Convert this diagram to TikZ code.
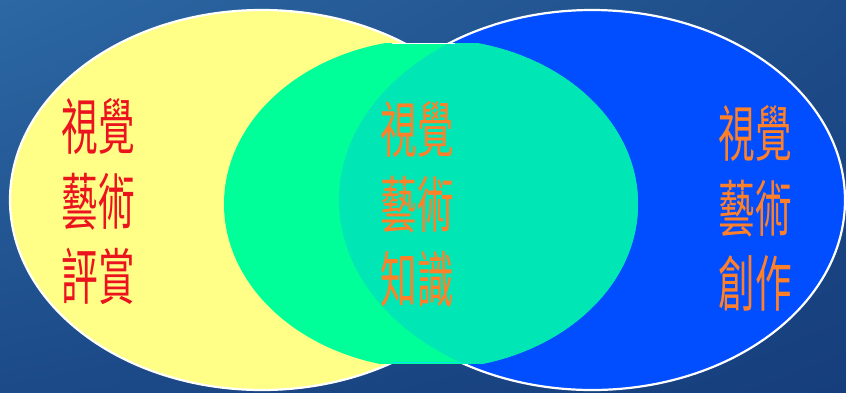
\documentclass[tikz,border=0pt]{standalone}
\usepackage{fontspec}
\usetikzlibrary{shadings}
\newfontfamily\cjkfont[FakeStretch=0.6]{Noto Sans CJK TC}
\definecolor{bgTL}{RGB}{44,104,164}
\definecolor{bgTR}{RGB}{30,76,136}
\definecolor{bgBL}{RGB}{28,74,136}
\definecolor{bgBR}{RGB}{22,62,124}
\definecolor{yellowfill}{RGB}{255,255,136}
\definecolor{bluefill}{RGB}{0,78,255}
\definecolor{greenfill}{RGB}{0,255,153}
\definecolor{tealfill}{RGB}{0,230,180}
\definecolor{edgecyan}{RGB}{0,230,235}
\definecolor{redtext}{RGB}{235,20,30}
\definecolor{orangetext}{RGB}{255,128,40}
\tikzset{
  ringshape/.style={draw=white, line width=2.2pt},
  vlabel/.style={font=\cjkfont\fontsize{61}{75}\selectfont, align=center, inner sep=0pt}
}
\begin{document}
\begin{tikzpicture}[x=1pt,y=-1pt]
\useasboundingbox (0,0) rectangle (846,392);
\shade[upper left=bgTL, upper right=bgTR, lower left=bgBL, lower right=bgBR] (0,0) rectangle (846,392);
% yellow ellipse
\path[ringshape, fill=yellowfill] (262,200) ellipse [x radius=252, y radius=190];
% blue ellipse
\path[ringshape, fill=bluefill] (592,200) ellipse [x radius=253, y radius=190];
% green ellipse (clipped flat at top and bottom)
\begin{scope}
  \clip (0,43) rectangle (846,363);
  \fill[greenfill] (431,204) ellipse [x radius=207, y radius=165];
  \clip (592,200) ellipse [x radius=253, y radius=190];
  \fill[tealfill] (431,204) ellipse [x radius=207, y radius=165];
\end{scope}
\draw[white, line width=1.2pt] (392,43.5) -- (455,43.5);
\draw[edgecyan, line width=1.5pt] (392,362.5) -- (462,362.5);
% texts
\node[vlabel, text=redtext] (appreciation) at (98,201.5) {視覺\\藝術\\評賞};
\node[vlabel, text=orangetext] (knowledge) at (417,204) {視覺\\藝術\\知識};
\node[vlabel, text=orangetext] (creation) at (755,208.5) {視覺\\藝術\\創作};
\end{tikzpicture}
\end{document}
